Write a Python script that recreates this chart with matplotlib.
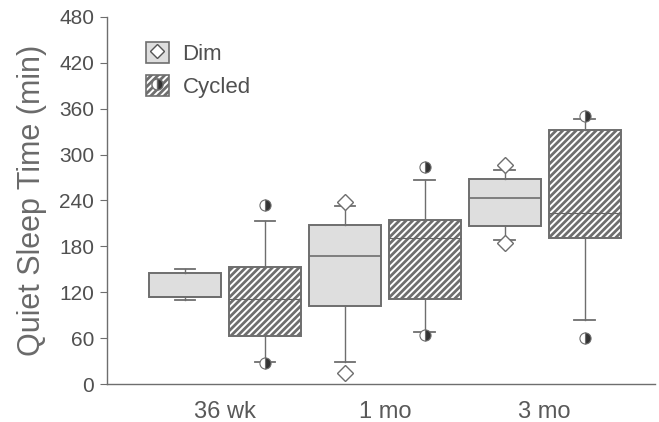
import matplotlib.pyplot as plt
from matplotlib.lines import Line2D
from matplotlib.patches import Patch
from matplotlib.legend_handler import HandlerTuple

plt.rcParams['font.family'] = ['Liberation Sans', 'DejaVu Sans']
plt.rcParams['hatch.linewidth'] = 2.0
plt.rcParams['hatch.color'] = '#2e2e2e'

# Quiet sleep time (min)
ages = ['36 wk', '1 mo', '3 mo']

dim_q1 = [114, 102, 207]
dim_med = [114, 167, 243]
dim_q3 = [145, 208, 268]
dim_lo = [110, 29, 188]
dim_hi = [150, 233, 280]
dim_fliers = [[], [14, 238], [185, 287]]

cyc_q1 = [63, 111, 191]
cyc_med = [111, 191, 224]
cyc_q3 = [153, 215, 332]
cyc_lo = [29, 68, 84]
cyc_hi = [213, 267, 347]
cyc_fliers = [[27, 234], [64, 284], [60, 350]]


def make_stats(q1, med, q3, lo, hi, fl):
    out = []
    for i in range(len(q1)):
        out.append(dict(q1=q1[i], med=med[i], q3=q3[i], whislo=lo[i],
                        whishi=hi[i], fliers=fl[i]))
    return out


fig, ax = plt.subplots(figsize=(6.59, 4.22), dpi=100)
fig.subplots_adjust(left=0.162, right=0.994, bottom=0.09, top=0.96)

grey = '#6e6e6e'
dimfill = '#dedede'
pos = list(range(len(ages)))

ax.bxp(make_stats(dim_q1, dim_med, dim_q3, dim_lo, dim_hi, dim_fliers),
       positions=[p - 0.25 for p in pos], widths=0.45, capwidths=0.13,
       patch_artist=True, showfliers=True,
       boxprops=dict(facecolor=dimfill, edgecolor=grey, linewidth=1.4),
       medianprops=dict(color=grey, linewidth=1.2),
       whiskerprops=dict(color=grey, linewidth=1),
       capprops=dict(color=grey, linewidth=1.3),
       flierprops=dict(marker='D', markersize=8, markerfacecolor='white',
                       markeredgecolor=grey, markeredgewidth=1))

ax.bxp(make_stats(cyc_q1, cyc_med, cyc_q3, cyc_lo, cyc_hi, cyc_fliers),
       positions=[p + 0.25 for p in pos], widths=0.45, capwidths=0.13,
       patch_artist=True, showfliers=True,
       boxprops=dict(facecolor='white', edgecolor=grey, linewidth=1.4, hatch='/////'),
       medianprops=dict(color='#666666', linewidth=0.8),
       whiskerprops=dict(color=grey, linewidth=1),
       capprops=dict(color=grey, linewidth=1.3),
       flierprops=dict(marker='o', markersize=8, fillstyle='right',
                       markerfacecolor='#333333', markerfacecoloralt='white',
                       markeredgecolor=grey, markeredgewidth=0.8))

ax.set_xlim(-0.74, 2.69)
ax.set_ylim(0, 480)
ax.set_yticks(range(0, 481, 60))
ax.set_xticks(pos)
ax.set_xticklabels(ages)
ax.tick_params(axis='x', length=0, pad=12, labelsize=17, colors='#595959')
ax.tick_params(axis='y', length=5, width=0.8, color=grey, labelsize=15,
               labelcolor='#505050', pad=4)
for s in ['top', 'right']:
    ax.spines[s].set_visible(False)
for s in ['left', 'bottom']:
    ax.spines[s].set_color(grey)
    ax.spines[s].set_linewidth(1)
ax.set_ylabel('Quiet Sleep Time (min)', fontsize=22, color='#6a6a6a', labelpad=9)

h_dim = (Patch(facecolor=dimfill, edgecolor=grey, linewidth=1.2),
         Line2D([], [], marker='D', ls='none', markersize=7,
                markerfacecolor='white', markeredgecolor='#555555'))
h_cyc = (Patch(facecolor='white', edgecolor=grey, hatch='/////', linewidth=1.2),
         Line2D([], [], marker='o', ls='none', markersize=8, fillstyle='right',
                markerfacecolor='#333333', markerfacecoloralt='white',
                markeredgecolor=grey))
ax.legend([h_dim, h_cyc], ['Dim', 'Cycled'], handler_map={tuple: HandlerTuple(ndivide=1)},
          loc='upper left', bbox_to_anchor=(0.055, 0.955), frameon=False,
          fontsize=16, handlelength=1.05, handleheight=1.05, handletextpad=0.6,
          labelspacing=0.45, labelcolor='#505050', borderaxespad=0)

plt.savefig('out.png', dpi=100)
